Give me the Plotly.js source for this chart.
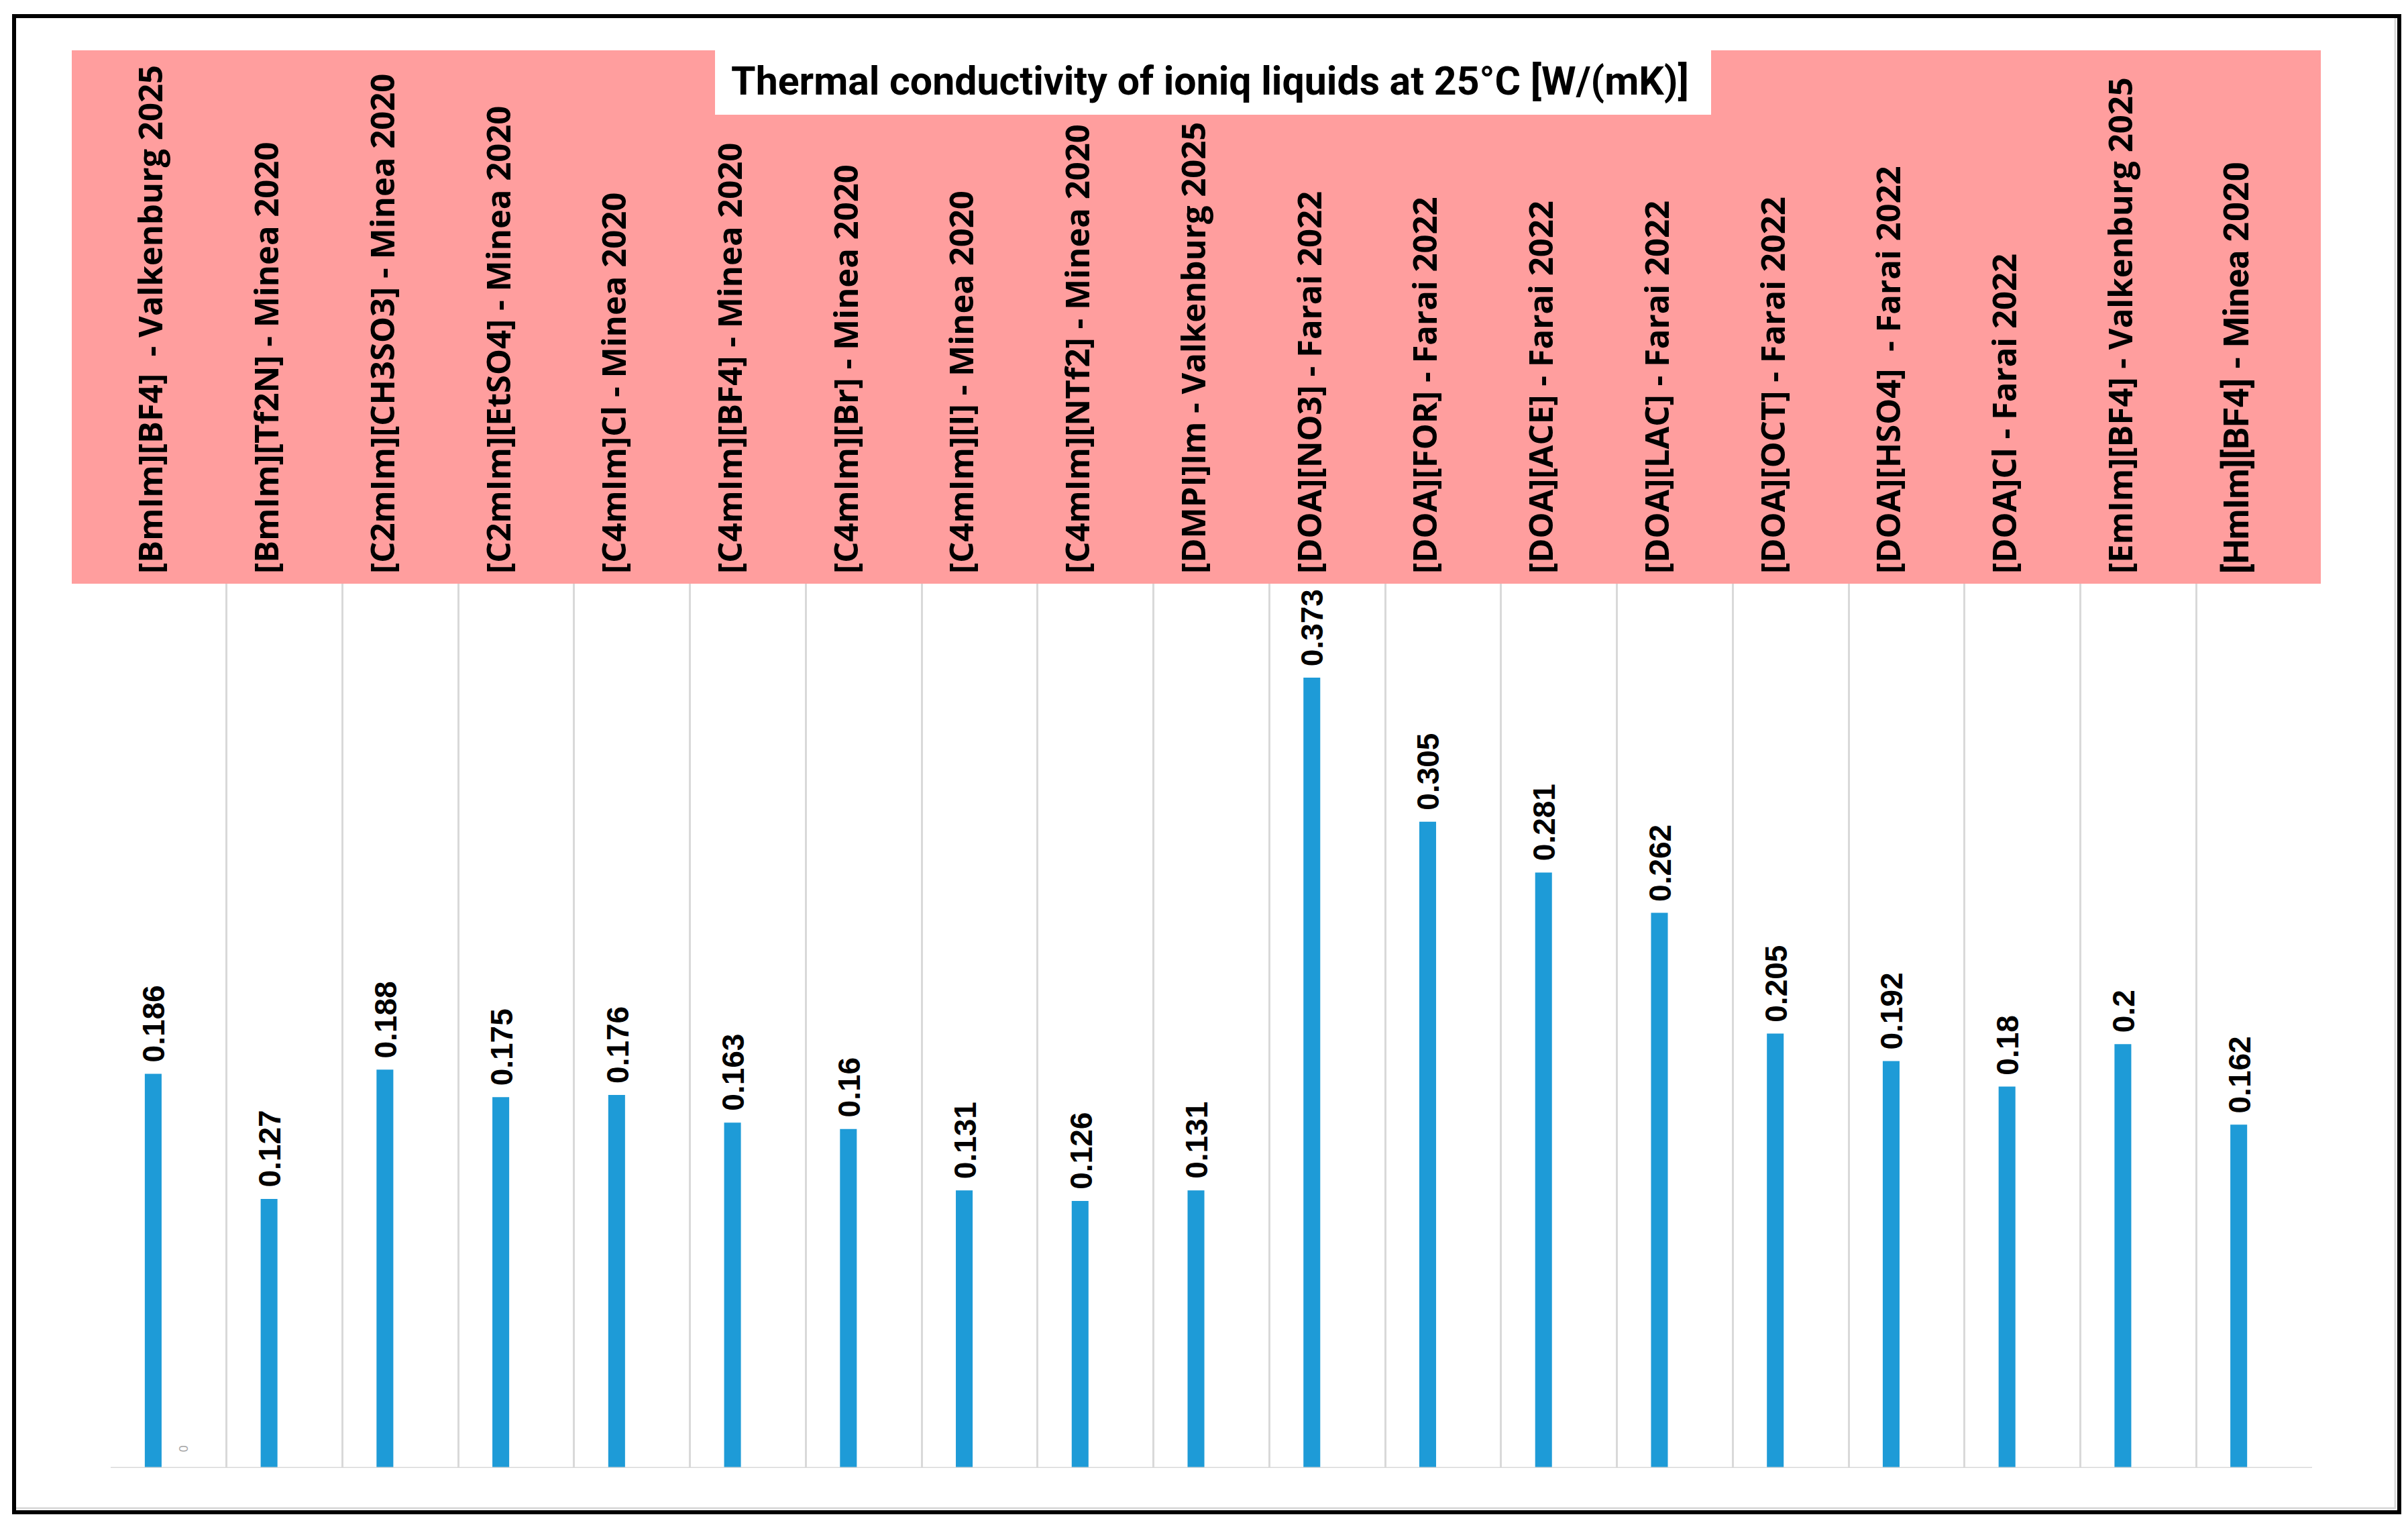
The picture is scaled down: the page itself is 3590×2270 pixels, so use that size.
<!DOCTYPE html>
<html>
<head>
<meta charset="utf-8">
<script src="https://cdn.plot.ly/plotly-3.0.1.min.js"></script>
<style>html,body{margin:0;padding:0;background:#fff;}#chart{width:3590px;height:2270px;}</style>
</head>
<body>
<div id="chart"></div>
<script>
// ---- data ----
const categories = [
  "[BmIm][BF4]  - Valkenburg 2025",
  "[BmIm][Tf2N] - Minea 2020",
  "[C2mIm][CH3SO3] - Minea 2020",
  "[C2mIm][EtSO4] - Minea 2020",
  "[C4mIm]Cl - Minea 2020",
  "[C4mIm][BF4] - Minea 2020",
  "[C4mIm][Br] - Minea 2020",
  "[C4mIm][I] - Minea 2020",
  "[C4mIm][NTf2] - Minea 2020",
  "[DMPI]Im - Valkenburg 2025",
  "[DOA][NO3] - Farai 2022",
  "[DOA][FOR] - Farai 2022",
  "[DOA][ACE] - Farai 2022",
  "[DOA][LAC] - Farai 2022",
  "[DOA][OCT] - Farai 2022",
  "[DOA][HSO4]  - Farai 2022",
  "[DOA]Cl - Farai 2022",
  "[EmIm][BF4] - Valkenburg 2025",
  "[HmIm][BF4] - Minea 2020"
];
const conductivity = [0.186, 0.127, 0.188, 0.175, 0.176, 0.163, 0.16, 0.131, 0.126, 0.131,
                      0.373, 0.305, 0.281, 0.262, 0.205, 0.192, 0.18, 0.2, 0.162];
const series2Categories = ["[BmIm][BF4]  - Valkenburg 2025"];
const series2Values = [0];
const titleText = "Thermal conductivity of ioniq liquids at 25°C [W/(mK)]";

// ---- geometry (pixels of the 3590x2270 canvas) ----
const W = 3590, H = 2270;
const PL = 165, PR = 3447, PT = 870, PB = 2188;
const px2x = p => (p - PL) / (PR - PL);
const px2y = p => (PB - p) / (PB - PT);

const labelFont = "'Open Sans', 'Noto Sans', sans-serif";
const narrowFont = "Roboto, sans-serif";
const valueFont = "'Liberation Sans', Arial, sans-serif";

// tick texts (last label drawn in a narrower face, as in the reference)
const tickText = categories.map((c, i) =>
  i === categories.length - 1
    ? "<span style=\"font-family:Roboto;font-size:52px;font-weight:bold\">" + c + "</span>"
    : c);

const barW = 0.145;
const traces = [
  {
    type: 'bar', x: categories, y: conductivity, name: 'k',
    marker: {color: '#1e9bd7', line: {width: 0}},
    width: barW, offset: -0.2055,
    hoverinfo: 'x+y'
  },
  {
    type: 'bar', x: series2Categories, y: series2Values, name: 's2',
    marker: {color: '#ed7d31', line: {width: 0}},
    width: barW, offset: 0.0605,
    hoverinfo: 'x+y'
  }
];

const annotations = [];
conductivity.forEach((v, i) => {
  annotations.push({
    x: categories[i], y: v, xref: 'x', yref: 'y',
    text: String(v), showarrow: false, textangle: -90,
    xanchor: 'center', yanchor: 'bottom', xshift: -22, yshift: 15,
    font: {family: valueFont, size: 46, color: '#000', weight: 'bold'}
  });
});
series2Values.forEach((v, i) => {
  annotations.push({
    x: series2Categories[i], y: v, xref: 'x', yref: 'y',
    text: String(v), showarrow: false, textangle: -90,
    xanchor: 'center', yanchor: 'bottom', xshift: 23, yshift: 22,
    font: {family: valueFont, size: 18, color: '#a6a6a6'}
  });
});

const shapes = [
  // pink label band
  {type: 'rect', xref: 'paper', yref: 'paper', layer: 'below',
   x0: px2x(107), x1: px2x(3460), y0: px2y(870), y1: px2y(75),
   fillcolor: '#ff9e9e', line: {width: 0}},
  // white title box
  {type: 'rect', xref: 'paper', yref: 'paper', layer: 'below',
   x0: px2x(1066), x1: px2x(2551), y0: px2y(171), y1: px2y(75),
   fillcolor: '#ffffff', line: {width: 0}},
  // bottom axis line
  {type: 'line', xref: 'paper', yref: 'y', layer: 'above',
   x0: 0, x1: 1, y0: 0, y1: 0, line: {color: '#d9d9d9', width: 3}},
  // gray inner edges of chart area
  {type: 'line', xref: 'paper', yref: 'paper', layer: 'above',
   x0: px2x(3571), x1: px2x(3571), y0: px2y(2249), y1: px2y(27), line: {color: '#d9d9d9', width: 3}},
  {type: 'line', xref: 'paper', yref: 'paper', layer: 'above',
   x0: px2x(24), x1: px2x(3571), y0: px2y(2248), y1: px2y(2248), line: {color: '#d9d9d9', width: 3}},
  // black outer frame
  {type: 'rect', xref: 'paper', yref: 'paper', layer: 'above',
   x0: px2x(21), x1: px2x(3577), y0: px2y(2254), y1: px2y(24),
   fillcolor: 'rgba(0,0,0,0)', line: {color: '#000', width: 6}}
];

const layout = {
  width: W, height: H,
  paper_bgcolor: '#ffffff', plot_bgcolor: '#ffffff',
  margin: {l: PL, r: W - PR, t: PT, b: H - PB, pad: 0},
  showlegend: false,
  barmode: 'overlay',
  title: {
    text: titleText,
    font: {family: narrowFont, size: 59, color: '#000', weight: 'bold'},
    x: px2x(1804), xref: 'paper', xanchor: 'center',
    y: 1 - 120 / H, yref: 'container', yanchor: 'middle'
  },
  xaxis: {
    type: 'category', side: 'top',
    categoryorder: 'array', categoryarray: categories,
    range: [-0.5, categories.length - 0.5],
    tickmode: 'array', tickvals: categories, ticktext: tickText,
    tickson: 'boundaries', ticks: '',
    tickangle: -90, ticklabelshift: -25, ticklabelstandoff: 14,
    tickfont: {family: labelFont, size: 49, color: '#000', weight: 'bold'},
    showgrid: true, gridcolor: '#d9d9d9', gridwidth: 3,
    showline: false, zeroline: false, automargin: false, fixedrange: true
  },
  yaxis: {
    range: [0, 0.4173], visible: true, showticklabels: false, ticks: '',
    showgrid: false, zeroline: false, showline: false, fixedrange: true
  },
  shapes: shapes,
  annotations: annotations
};

Plotly.newPlot('chart', traces, layout, {staticPlot: true, displayModeBar: false});
</script>
</body>
</html>
